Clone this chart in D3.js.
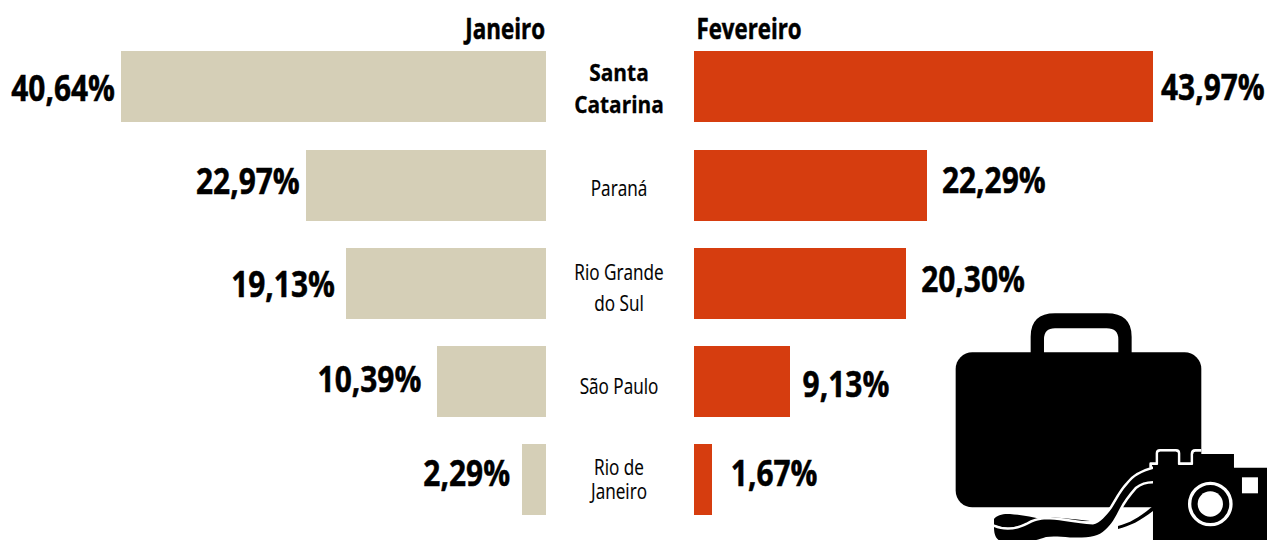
<!DOCTYPE html>
<html><head><meta charset="utf-8">
<script src="https://cdn.jsdelivr.net/npm/d3@7/dist/d3.min.js"></script>
<style>html,body{margin:0;padding:0;background:#fff}svg{display:block}text{font-family:"Open Sans",sans-serif;fill:#000}</style>
</head><body><svg id="c" width="1267" height="540"></svg>
<script>
const states = ["Santa Catarina","Paraná","Rio Grande do Sul","São Paulo","Rio de Janeiro"];
const stateLines = [["Santa","Catarina"],["Paraná"],["Rio Grande","do Sul"],["São Paulo"],["Rio de","Janeiro"]];
const janeiro = [40.64,22.97,19.13,10.39,2.29];
const fevereiro = [43.97,22.29,20.30,9.13,1.67];
const seriesNames = ["Janeiro","Fevereiro"];
const fmt = v => v.toFixed(2).replace(".",",")+"%";

// label nudges as hand-set in the original layout
const gapL=[6,6,11,16,12], gapR=[8,15,15,13,19];
const baseL=[50,44,49,46,42], baseR=[49,43,44,51,42];
const catBase=[30,46,32,48,31], catLead=[31.5,0,31,0,24];

const svg=d3.select("#c");
const y=d3.scaleBand().domain(states).range([51.4,515.4]).paddingInner(0.277);
const xL=d3.scaleLinear().domain([0,40.64]).range([546,121]);
const xR=d3.scaleLinear().domain([0,43.97]).range([694.4,1153]);

function put(g,str,x,yy,size,weight,anchor,k){
  return g.append("text").attr("transform",`translate(${x},${yy}) scale(${k},1)`)
    .attr("text-anchor",anchor).attr("font-size",size).attr("font-weight",weight).text(str);
}
const gb=svg.append("g").attr("shape-rendering","crispEdges");
gb.selectAll("rect.j").data(states).join("rect").attr("class","j")
  .attr("x",(d,i)=>xL(janeiro[i])).attr("y",d=>y(d)).attr("width",(d,i)=>xL(0)-xL(janeiro[i])).attr("height",y.bandwidth()).attr("fill","#d5cfb7");
gb.selectAll("rect.f").data(states).join("rect").attr("class","f")
  .attr("x",xR(0)).attr("y",d=>y(d)).attr("width",(d,i)=>xR(fevereiro[i])-xR(0)).attr("height",y.bandwidth()).attr("fill","#d63d0f");

const gt=svg.append("g");
put(gt,seriesNames[0],545,39,28,700,"end",0.80).attr("stroke","#000").attr("stroke-width",0.5);
put(gt,seriesNames[1],696.5,39,28,700,"start",0.795).attr("stroke","#000").attr("stroke-width",0.5);
states.forEach((s,i)=>{
  put(gt,fmt(janeiro[i]),xL(janeiro[i])-gapL[i],y(s)+baseL[i],36,700,"end",0.83).attr("stroke","#000").attr("stroke-width",0.5);
  put(gt,fmt(fevereiro[i]),xR(fevereiro[i])+gapR[i],y(s)+baseR[i],36,700,"start",0.83).attr("stroke","#000").attr("stroke-width",0.5);
  const t=put(gt,"",619,y(s)+catBase[i],i===0?24:22,i===0?700:400,"middle",i===0?0.87:0.78)
    .attr("stroke","#000").attr("stroke-width",i===0?0.3:0.15);
  stateLines[i].forEach((ln,j)=>{
    t.append("tspan").attr("x",0).attr("dy",j?catLead[i]:0).text(ln);
  });
});

// suitcase (3x units)
const ic=svg.append("g").attr("transform","translate(940,300) scale(0.3333)");
ic.append("path").attr("fill","#000")
 .attr("d","M272,170 V110 Q272,40 345,40 H500 Q575,40 575,110 V170 H535 V118 Q535,85 500,85 H345 Q312,85 312,118 V170 Z");
ic.append("rect").attr("x",47).attr("y",157).attr("width",737).attr("height",465).attr("rx",50).attr("fill","#000");

// strap (page units)
const st=svg.append("g");
st.append("path").attr("fill","#000").attr("d","M994,519 C997,515 1003,513.5 1010,514 C1022,515 1032,517 1041,519 L1035,521 C1028,524 1018,527 1010,527.5 C1003,527.5 997,526 994,525 Z");
st.append("path").attr("fill","#000").attr("d","M1048,517 C1060,518 1072,518.5 1090,521 L1072,522 C1062,521 1055,520 1048,517 Z");
st.append("path").attr("fill","#000").attr("d","M1118,526 C1130,523 1140,517 1153,506 L1153,511 C1140,521 1130,526 1118,529 Z");
st.append("path").attr("fill","#000").attr("stroke","#fff").attr("stroke-width",5).attr("paint-order","stroke")
 .attr("d","M994,527 C1003,531 1015,531 1027,525 C1035,520 1042,519 1050,519.5 C1062,520 1075,523 1093,524.5 C1100,523 1106,516 1112,508 C1118,498 1122,490 1128,484 C1134,476 1142,472 1153,469 L1153,481 C1146,481 1140,483 1135,487 C1128,495 1123,502 1120,508 C1115,518 1111,525 1105,530 C1098,537 1088,538 1070,537.5 C1060,536.5 1052,536 1046,537 C1040,539 1036,540 1033,541 L1000,541 C995,538 994,533 994,527 Z");

// camera (3x units)
const cam=svg.append("g").attr("transform","translate(940,300) scale(0.3333)");
cam.append("path").attr("fill","none").attr("stroke","#fff").attr("stroke-width",8).attr("stroke-linejoin","round")
 .attr("d","M632,503 V491 H651 V460 Q651,451 660,451 H708 Q717,451 717,460 V491 H756 V462 Q756,451 766,451 H784");
cam.append("path").attr("fill","#000")
 .attr("d","M639,503 V495 H655 V460 Q655,455 660,455 H708 Q713,455 713,460 V495 H760 V462 H882 V503 H990 V730 H639 Z");
cam.append("circle").attr("cx",811).attr("cy",612).attr("r",62).attr("fill","none").attr("stroke","#fff").attr("stroke-width",10);
cam.append("circle").attr("cx",811).attr("cy",612).attr("r",38).attr("fill","#fff");
cam.append("rect").attr("x",906).attr("y",532).attr("width",48).attr("height",48).attr("fill","#fff");
</script></body></html>
